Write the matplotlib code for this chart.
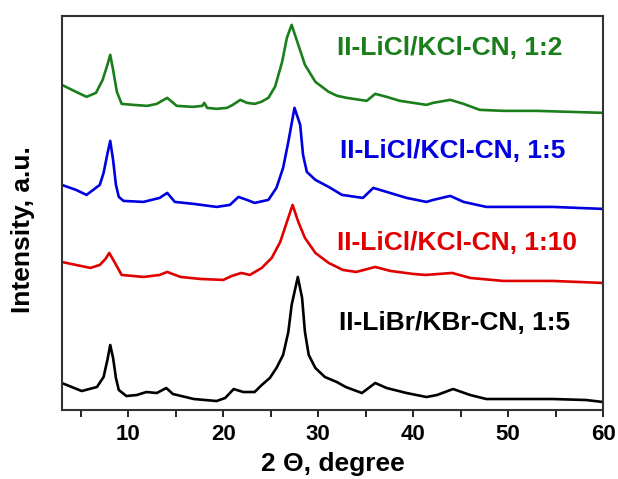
import matplotlib
matplotlib.use('Agg')
import matplotlib.pyplot as plt
from matplotlib.ticker import MultipleLocator

plt.rcParams['font.family'] = ['Liberation Sans', 'DejaVu Sans']
plt.rcParams['font.weight'] = 'bold'

# 2theta / intensity (a.u., already stacked)
green_x = [3.0, 4.5, 5.6, 6.6, 7.3, 7.8, 8.1, 8.4, 8.8, 9.3, 10.5, 12.0, 13.0, 14.1, 15.1,
           16.8, 17.8, 18.0, 18.3, 19.3, 20.4, 21.0, 21.8, 22.5, 23.3, 24.0, 24.75, 25.45,
           26.2, 26.7, 27.2, 27.9, 28.6, 29.7, 31.1, 32.0, 33.0, 34.4, 35.1, 36.0, 37.2,
           38.6, 40.0, 41.4, 42.1, 43.9, 45.3, 47.0, 49.5, 53.0, 56.5, 60.0]
green_y = [325, 318, 313, 317, 330, 345, 355, 340, 318, 306, 305, 304, 306, 312, 304,
           303, 304, 307, 302, 301, 302, 305, 310, 307, 306, 308, 312, 323,
           348, 372, 385, 365, 345, 328, 318, 314, 312, 310, 309, 316, 313,
           309, 307, 305, 307, 310, 306, 300, 299, 299, 298, 297]

blue_x = [3.0, 4.5, 5.6, 7.0, 7.4, 7.8, 8.1, 8.4, 8.7, 9.0, 9.5, 11.6, 13.3, 14.1, 14.9, 16.9,
          19.3, 20.7, 21.6, 22.5, 23.3, 24.75, 25.6, 26.3, 26.85, 27.5, 28.1, 28.4, 28.8,
          29.7, 31.1, 32.5, 34.7, 35.8, 37.2, 39.3, 41.4, 42.1, 43.9, 45.3, 47.7, 51.2,
          54.7, 60.0]
blue_y = [225, 220, 215, 225, 237, 256, 269, 250, 225, 213, 209, 208, 212, 217, 208, 206,
          203, 205, 213, 210, 207, 210, 222, 242, 268, 302, 285, 255, 238,
          230, 223, 215, 212, 222, 218, 212, 208, 210, 214, 208, 203, 203,
          203, 201]

red_x = [3.0, 6.0, 7.0, 7.6, 8.0, 8.6, 9.3, 11.6, 13.3, 14.1, 15.5, 17.6, 20.0, 20.9, 21.9,
         22.8, 24.05, 25.1, 26.0, 26.7, 27.3, 27.9, 28.6, 29.7, 31.1, 32.6, 34.0, 36.0,
         37.6, 40.0, 41.3, 44.1, 46.0, 49.5, 54.7, 60.0]
red_y = [148, 142, 145, 151, 157, 147, 135, 133, 135, 138, 133, 131, 130, 134, 137,
         135, 142, 152, 168, 188, 205, 188, 172, 157, 147, 140, 138, 143,
         139, 136, 135, 137, 132, 129, 129, 127]

black_x = [3.0, 5.1, 6.7, 7.4, 7.8, 8.1, 8.4, 8.7, 9.0, 9.8, 10.9, 11.9, 13.0, 14.0, 14.7,
           16.9, 19.3, 20.2, 21.1, 22.1, 23.3, 24.05, 24.9, 25.6, 26.3, 26.85, 27.2, 27.85,
           28.3, 28.6, 29.0, 29.7, 30.7, 31.95, 32.9, 34.6, 36.0, 37.2, 39.3, 41.4, 42.5,
           44.2, 46.0, 47.7, 51.2, 54.7, 58.2, 60.0]
black_y = [27, 19, 23, 33, 50, 65, 52, 32, 20, 14, 15, 18, 17, 22, 16,
           11, 9, 12, 21, 18, 18, 25, 32, 42, 55, 78, 105, 133,
           112, 78, 55, 42, 33, 28, 23, 17, 27, 22, 17, 13, 15,
           21, 15, 11, 11, 11, 10, 8]

labels = ['II-LiCl/KCl-CN, 1:2', 'II-LiCl/KCl-CN, 1:5',
          'II-LiCl/KCl-CN, 1:10', 'II-LiBr/KBr-CN, 1:5']
colors = ['#1a7f1a', '#0000e0', '#e00000', 'black']

fig = plt.figure(figsize=(6.18, 4.79), dpi=100)
ax = fig.add_axes([0.1, 0.144, 0.876, 0.823])

series = [(green_x, green_y), (blue_x, blue_y), (red_x, red_y), (black_x, black_y)]
for (xs, ys), c in zip(series, colors):
    ax.plot(xs, ys, color=c, lw=1.9)

# label positions (in data coords)
label_x = [32.0, 32.3, 32.0, 32.2]
label_y = [362, 259, 167, 87]
for lab, c, lx, ly in zip(labels, colors, label_x, label_y):
    ax.text(lx, ly, lab, color=c, fontsize=19, fontweight='bold', va='center')

ax.set_xlim(3, 60)
ax.set_ylim(0, 394)
ax.set_yticks([])
ax.xaxis.set_major_locator(MultipleLocator(10))
ax.xaxis.set_minor_locator(MultipleLocator(5))
ax.tick_params(axis='x', which='both', direction='out', length=5, width=1.2,
               labelsize=16, pad=5)
for s in ax.spines.values():
    s.set_linewidth(1.5)
    s.set_color('#333333')

ax.set_xlabel('2 \u0398, degree', fontsize=19, fontweight='bold', labelpad=5)
ax.set_ylabel('Intensity, a.u.', fontsize=19, fontweight='bold')
ax.yaxis.set_label_coords(-0.05, 0.457)

fig.savefig('out.png', dpi=100)
